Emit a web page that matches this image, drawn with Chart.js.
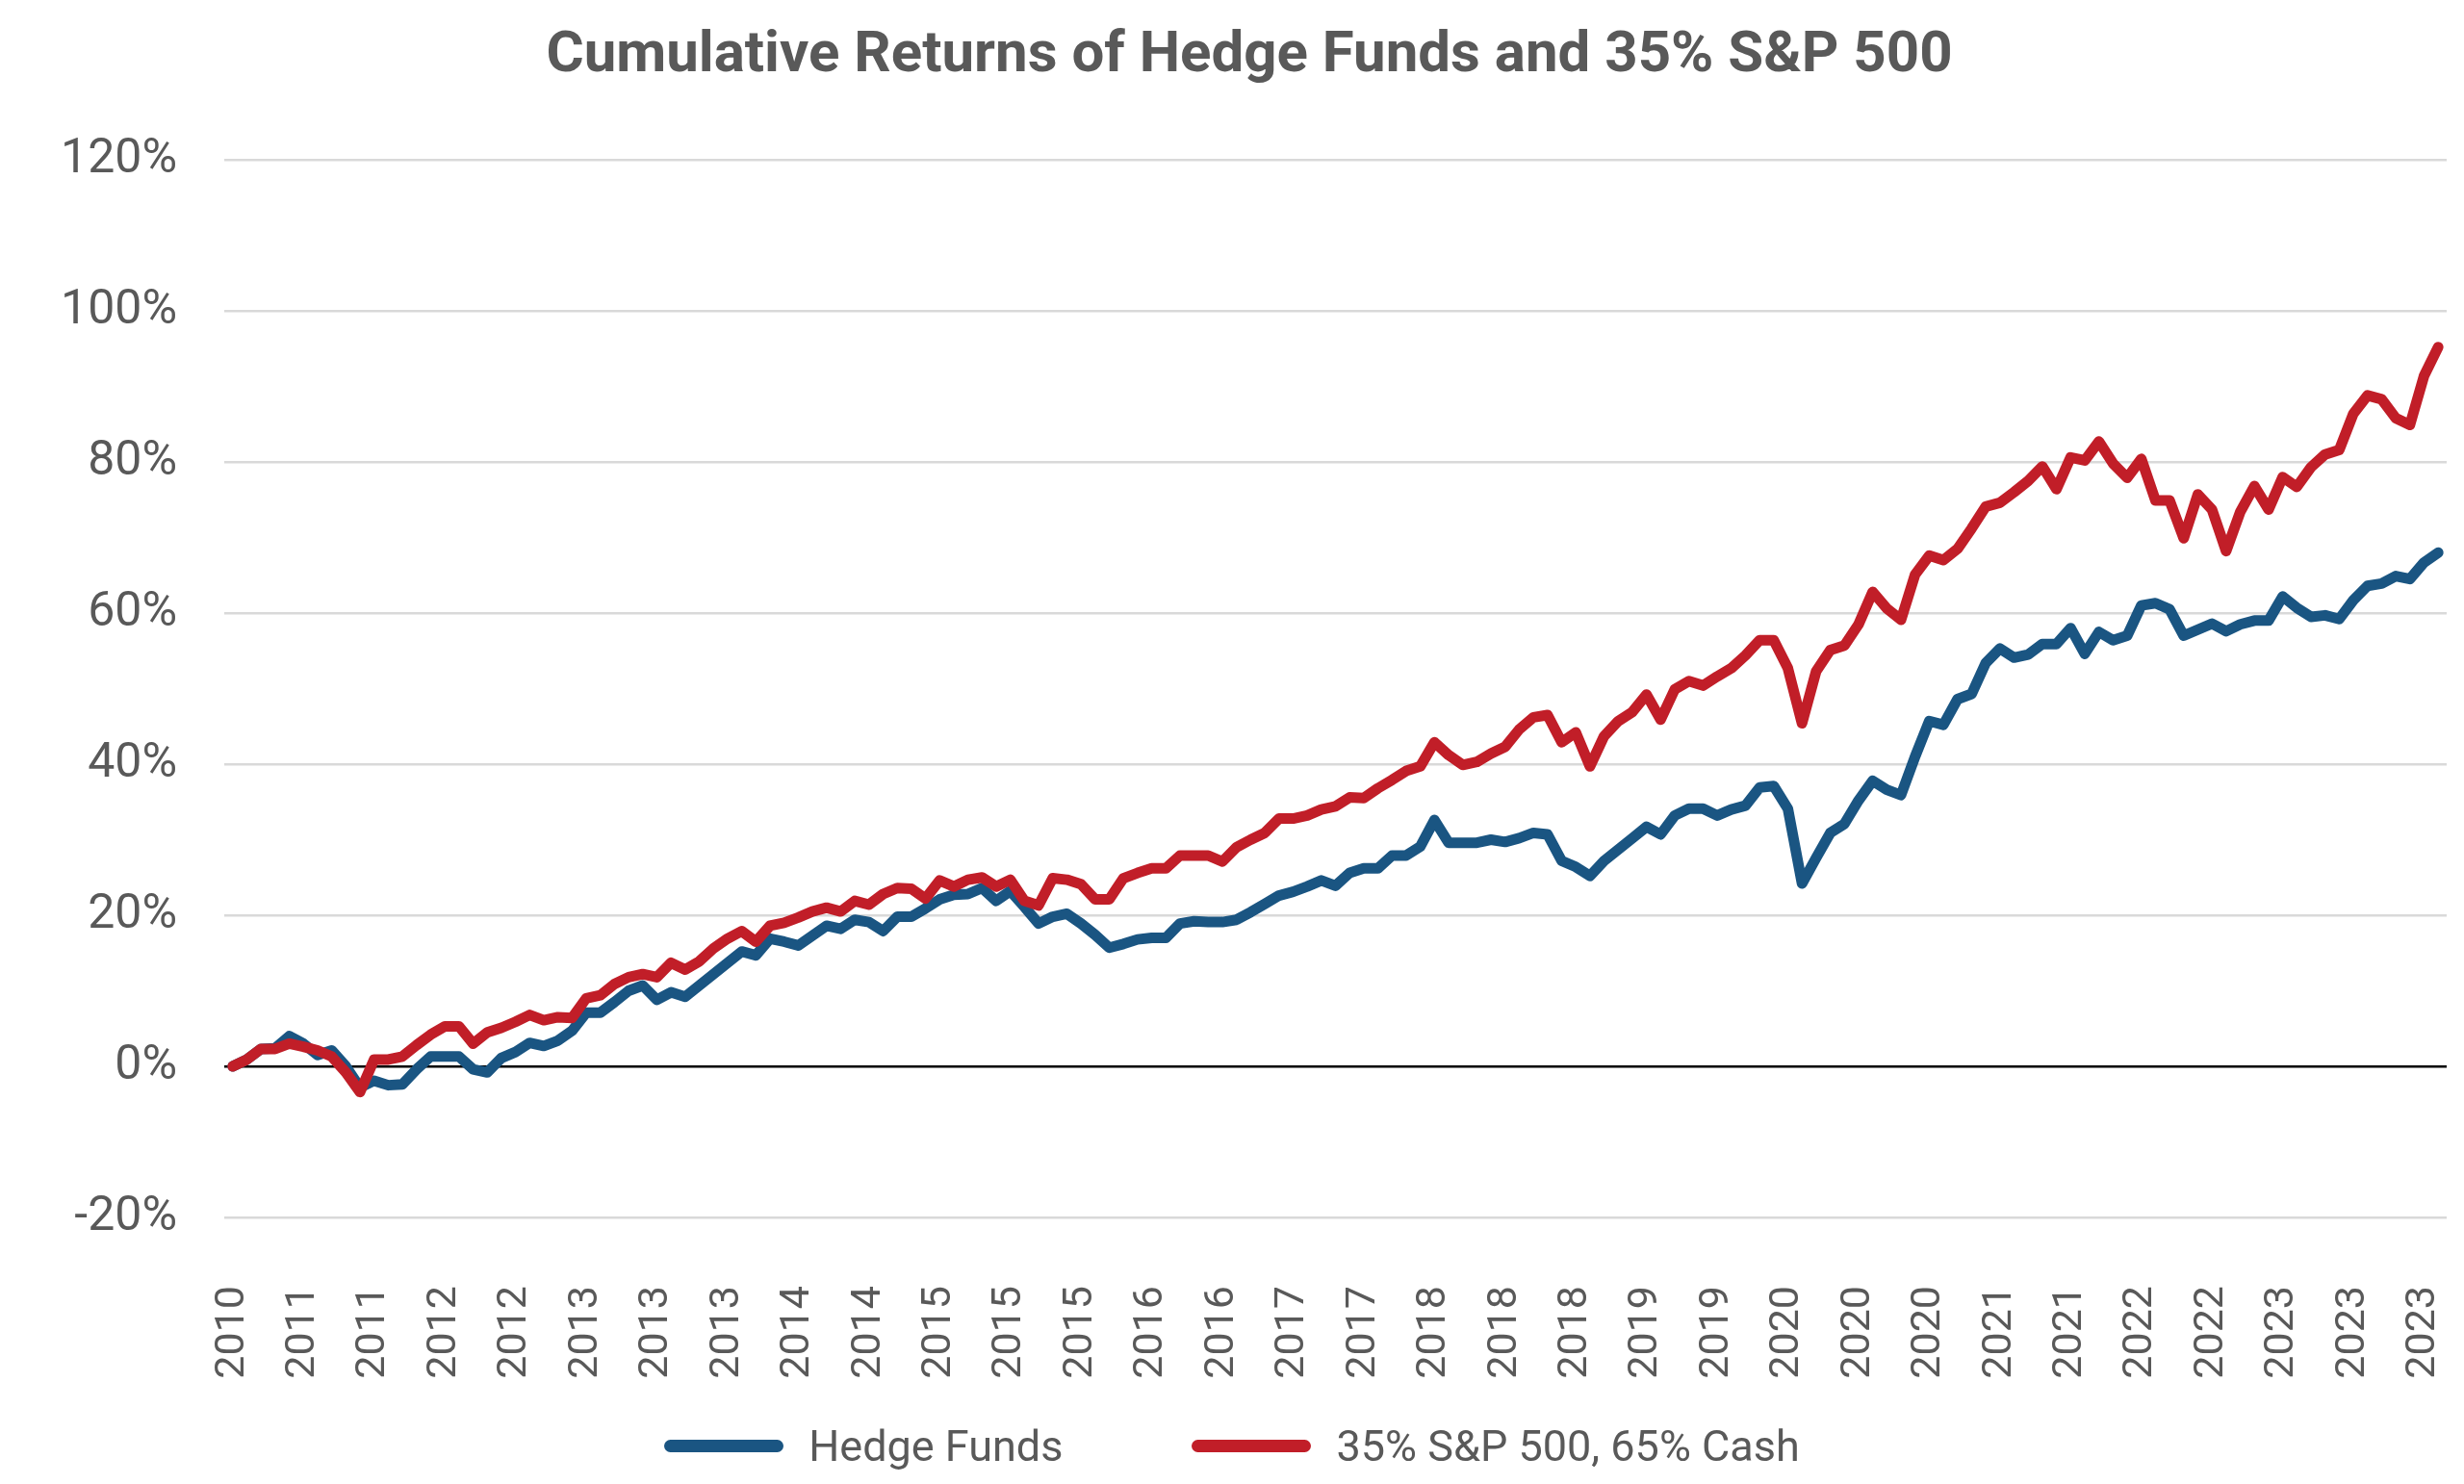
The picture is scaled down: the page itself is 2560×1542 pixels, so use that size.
<!DOCTYPE html>
<html>
<head>
<meta charset="utf-8">
<title>Cumulative Returns of Hedge Funds and 35% S&amp;P 500</title>
<script src="https://cdn.jsdelivr.net/npm/chart.js@4.4.1/dist/chart.umd.min.js"></script>
<style>
  html, body { margin: 0; padding: 0; background: #ffffff; }
  #wrap { position: relative; width: 2560px; height: 1542px; }
  #legend {
    position: absolute; left: 0; top: 1472px; width: 2560px; height: 60px;
    display: flex; align-items: center; justify-content: center;
    font-family: Roboto, sans-serif; font-size: 45px; color: #595959;
  }
  .swatch { width: 124px; height: 13px; border-radius: 7px; margin-right: 26px; }
  .item { display: flex; align-items: center; }
  .item + .item { margin-left: 134px; }
</style>
</head>
<body>
<div id="wrap">
  <canvas id="chart" width="2560" height="1542"></canvas>
  <div id="legend"></div>
</div>
<script>
// Monthly cumulative returns (%), Dec 2010 .. Dec 2023
const hedgeFunds = [
  0, 0.9, 2.3, 2.4, 4.0, 3.0, 1.5, 2.1, 0, -2.8,
  -1.9, -2.5, -2.4, -0.4, 1.3, 1.3, 1.3, -0.4, -0.8, 1.1,
  1.9, 3.1, 2.7, 3.4, 4.7, 7.1, 7.1, 8.5, 10.0, 10.7,
  8.8, 9.8, 9.2, 10.7, 12.2, 13.7, 15.2, 14.7, 16.9, 16.5,
  16.0, 17.3, 18.6, 18.2, 19.4, 19.1, 17.9, 19.8, 19.8, 20.9,
  22.1, 22.7, 22.8, 23.6, 21.9, 23.2, 21.1, 18.9, 19.8, 20.2,
  18.9, 17.4, 15.7, 16.2, 16.8, 17.0, 17.0, 18.9, 19.2, 19.1,
  19.1, 19.4, 20.4, 21.5, 22.6, 23.1, 23.8, 24.6, 23.9, 25.6,
  26.2, 26.2, 27.9, 27.9, 29.1, 32.6, 29.6, 29.6, 29.6, 30.0,
  29.7, 30.2, 30.9, 30.7, 27.2, 26.4, 25.2, 27.2, 28.7, 30.2,
  31.7, 30.7, 33.2, 34.1, 34.1, 33.2, 34.0, 34.5, 36.9, 37.1,
  34.1, 24.2, 27.6, 30.9, 32.1, 35.2, 37.8, 36.6, 35.9, 41.0,
  45.7, 45.2, 48.6, 49.3, 53.4, 55.3, 54.1, 54.5, 55.9, 55.9,
  58.0, 54.6, 57.5, 56.4, 57.0, 61.0, 61.3, 60.5, 57.0, 57.8,
  58.6, 57.6, 58.5, 59.0, 59.0, 62.2, 60.7, 59.5, 59.7, 59.2,
  61.7, 63.6, 63.9, 64.9, 64.5, 66.7, 68.0
];

const sp35Cash = [
  0, 0.9, 2.3, 2.3, 3.0, 2.6, 2.1, 1.3, -0.8, -3.4,
  0.9, 0.9, 1.3, 2.8, 4.2, 5.3, 5.3, 3.0, 4.5, 5.1,
  5.9, 6.8, 6.1, 6.5, 6.4, 9.0, 9.4, 10.9, 11.8, 12.2,
  11.8, 13.7, 12.8, 13.9, 15.6, 16.9, 17.9, 16.5, 18.6, 19.0,
  19.7, 20.5, 21.0, 20.5, 21.9, 21.4, 22.8, 23.6, 23.5, 22.2,
  24.6, 23.8, 24.7, 25.0, 23.8, 24.7, 21.9, 21.3, 24.9, 24.7,
  24.1, 22.1, 22.1, 24.9, 25.6, 26.2, 26.2, 27.9, 27.9, 27.9,
  27.1, 29.0, 30.0, 30.9, 32.8, 32.8, 33.2, 34.0, 34.4, 35.6,
  35.5, 36.8, 37.9, 39.1, 39.7, 42.9, 41.2, 39.9, 40.3, 41.4,
  42.3, 44.6, 46.2, 46.5, 42.9, 44.2, 39.7, 43.7, 45.7, 46.9,
  49.2, 45.9, 49.9, 51.0, 50.4, 51.6, 52.7, 54.4, 56.4, 56.4,
  52.7, 45.4, 52.3, 55.1, 55.7, 58.5, 62.8, 60.6, 59.1, 65.1,
  67.6, 67.0, 68.5, 71.2, 74.1, 74.6, 76.0, 77.5, 79.4, 76.4,
  80.6, 80.2, 82.7, 79.8, 77.9, 80.4, 74.9, 74.9, 69.9, 75.7,
  73.7, 68.2, 73.4, 76.8, 73.7, 78.0, 76.7, 79.3, 81.0, 81.6,
  86.4, 88.8, 88.3, 85.8, 84.9, 91.4, 95.2
];

// one axis label every 5 months, starting at the first point
const tickLabels = [
  '2010', '2011', '2011', '2012', '2012', '2013', '2013', '2013',
  '2014', '2014', '2015', '2015', '2015', '2016', '2016', '2017',
  '2017', '2018', '2018', '2018', '2019', '2019', '2020', '2020',
  '2020', '2021', '2021', '2022', '2022', '2023', '2023', '2023'
];
const tickStep = 5;

const seriesNames = ['Hedge Funds', '35% S&P 500, 65% Cash'];
const seriesColors = ['#1a5582', '#c11e28'];

const textColor = '#595959';
const fontFamily = 'Roboto, "Liberation Sans", sans-serif';

function toPoints(values) {
    return values.map((v, i) => ({ x: i, y: v }));
}

const seriesValues = [hedgeFunds, sp35Cash];

const chart = new Chart(document.getElementById('chart'), {
    type: 'line',
    data: {
        datasets: seriesValues.map((values, k) => ({
            label: seriesNames[k],
            data: toPoints(values),
            borderColor: seriesColors[k],
            backgroundColor: seriesColors[k],
            borderWidth: 11,
            borderCapStyle: 'round',
            borderJoinStyle: 'round',
            pointRadius: 0,
            tension: 0,
            // red line sits on top of the blue one
            order: k === 1 ? 0 : 1
        }))
    },
    options: {
        responsive: false,
        animation: false,
        events: [],
        layout: {
            padding: { left: 54, right: 18, top: 0, bottom: 105 }
        },
        plugins: {
            legend: { display: false },
            tooltip: { enabled: false },
            title: {
                display: true,
                text: 'Cumulative Returns of Hedge Funds and 35% S&P 500',
                color: textColor,
                font: { family: fontFamily, size: 60, weight: 'bold' },
                padding: { top: 23, bottom: 71 }
            }
        },
        scales: {
            x: {
                type: 'linear',
                min: -0.6,
                max: hedgeFunds.length - 1 + 0.6,
                grid: { display: false, drawTicks: false },
                border: { display: false },
                afterBuildTicks: (axis) => {
                    axis.ticks = tickLabels.map((_, k) => ({ value: k * tickStep }));
                },
                // keep the plot edges where the reference has them
                afterFit: (axis) => {
                    axis.paddingLeft = 0;
                    axis.paddingRight = 0;
                    axis.height = 172;
                },
                ticks: {
                    autoSkip: false,
                    maxRotation: 90,
                    minRotation: 90,
                    padding: 71,
                    color: textColor,
                    font: { family: fontFamily, size: 43 },
                    callback: (value, index) => tickLabels[index]
                }
            },
            y: {
                min: -20,
                max: 120,
                afterFit: (axis) => {
                    axis.width = 179;
                },
                grid: {
                    drawTicks: false,
                    lineWidth: 2.5,
                    color: (ctx) => (ctx.tick && ctx.tick.value === 0 ? '#000000' : '#d9d9d9')
                },
                border: { display: false },
                ticks: {
                    stepSize: 20,
                    padding: 49,
                    color: textColor,
                    font: { family: fontFamily, size: 50 },
                    callback: (value) => value + '%'
                }
            }
        }
    }
});

// legend drawn as html under the axis labels
const legendEl = document.getElementById('legend');
seriesNames.forEach((name, k) => {
    const item = document.createElement('div');
    item.className = 'item';
    const swatch = document.createElement('div');
    swatch.className = 'swatch';
    swatch.style.background = seriesColors[k];
    const label = document.createElement('span');
    label.textContent = name;
    item.appendChild(swatch);
    item.appendChild(label);
    legendEl.appendChild(item);
});
</script>
</body>
</html>
